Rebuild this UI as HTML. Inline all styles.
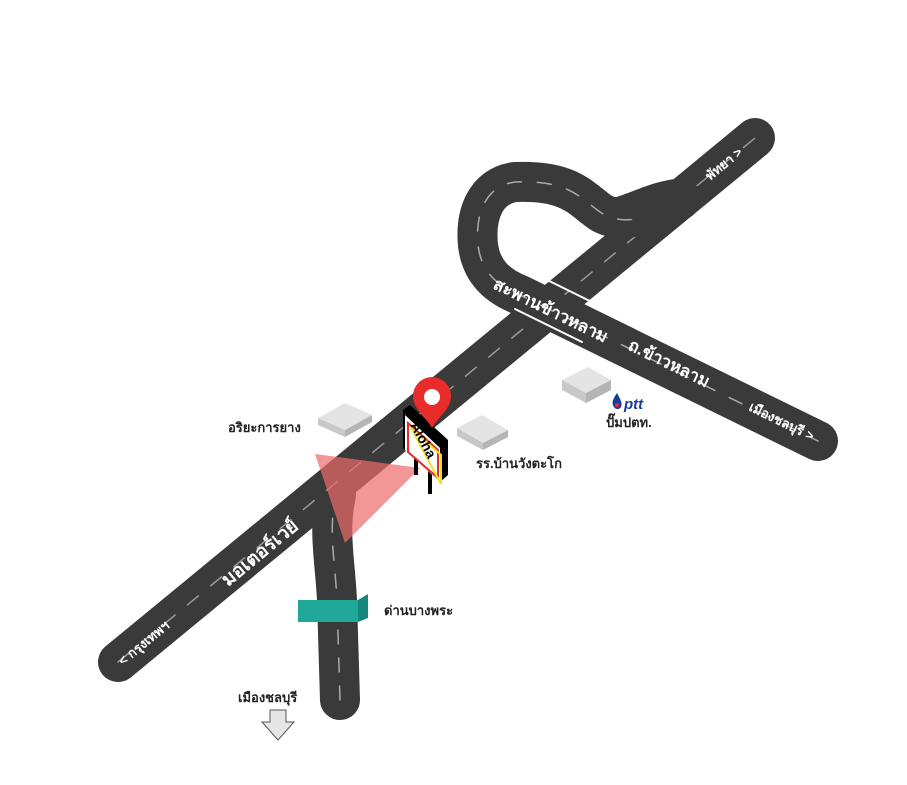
<!DOCTYPE html>
<html><head><meta charset="utf-8"><style>
html,body{margin:0;padding:0;background:#fff}
svg text{font-family:"Liberation Sans","Noto Sans CJK SC",sans-serif}
</style></head><body>
<svg width="907" height="780" viewBox="0 0 907 780" xmlns="http://www.w3.org/2000/svg">
<g fill="none" stroke-linecap="round" stroke-linejoin="round">
 <!-- lower road -->
 <path d="M340,700 L337,600 C335,560 328,530 336,495" stroke="#3a3a3a" stroke-width="40"/>
 <path d="M340,700 L337,600 C335,560 328,530 336,495" stroke="#aaa" stroke-width="1.5" stroke-dasharray="14,14"/>
 <!-- highway -->
 <path d="M118,662 L755,138" stroke="#3a3a3a" stroke-width="40"/>
 <path d="M118,662 L755,138" stroke="#999" stroke-width="1.5" stroke-dasharray="14,16"/>
 <!-- loop road -->
 <path d="M680,200 C650,215 620,225 600,212 C580,198 570,180 515,182 C485,186 475,215 478,245 C481,270 495,285 520,295 L818,441" stroke="#3a3a3a" stroke-width="40"/>
 <path d="M660,210 C640,220 620,225 600,212 C580,198 570,180 515,182 C485,186 475,215 478,245 C481,270 495,285 520,295 L818,441" stroke="#aaa" stroke-width="1.5" stroke-dasharray="14,16"/>
 <!-- bridge edges -->
 <path d="M533,273 L600,306" stroke="#fff" stroke-width="2"/>
 <path d="M515,309 L582,342" stroke="#fff" stroke-width="2"/>
</g>
<path d="M605,200 C630,195 650,180 685,178 L700,200 L640,225 Z" fill="#3a3a3a"/>
<!-- buildings -->
<g>
 <polygon points="318,418 345,403 372,415 345,430" fill="#e4e4e4"/>
 <polygon points="318,418 345,430 345,437 318,425" fill="#c8c8c8"/>
 <polygon points="345,430 372,415 372,422 345,437" fill="#b5b5b5"/>
 <polygon points="457,428 482,415 508,430 483,443" fill="#e4e4e4"/>
 <polygon points="457,428 483,443 483,450 457,436" fill="#c8c8c8"/>
 <polygon points="483,443 508,430 508,437 483,450" fill="#b5b5b5"/>
 <polygon points="562,380 588,367 611,380 586,393" fill="#e4e4e4"/>
 <polygon points="562,380 586,393 586,403 562,390" fill="#c8c8c8"/>
 <polygon points="586,393 611,380 611,390 586,403" fill="#b5b5b5"/>
 <polygon points="298,600 358,600 358,622 298,622" fill="#20a898"/>
 <polygon points="358,600 368,594 368,618 358,622" fill="#16857a"/>
</g>
<!-- red triangle -->
<polygon points="315,454 420,468 345,543" fill="#ee6a6a" opacity="0.7"/>
<!-- sign -->
<g>
 <rect x="414" y="455" width="4" height="20" fill="#000"/>
 <rect x="428" y="462" width="4" height="32" fill="#000"/>
 <polygon points="403,410 410,405 448,440 448,475 440,482 403,448" fill="#000"/>
 <polygon points="405,415 440,448 440,482 405,450" fill="#fff"/>
 <polygon points="408,423 438,450 438,478 408,452" fill="none" stroke="#e82b2b" stroke-width="2"/>
 <polygon points="411,428 441,455 441,484" fill="none" stroke="#f0e030" stroke-width="2"/>
 <text x="0" y="0" font-size="14" font-weight="bold" fill="#000" transform="translate(410,425) rotate(62)">Aloha</text>
</g>
<!-- pin -->
<path d="M432,428 C426,417 413,409 413,396 A19,19 0 0 1 451,396 C451,409 438,417 432,428 Z" fill="#e82b2b"/>
<circle cx="432" cy="397" r="8" fill="#fff"/>
<!-- arrow -->
<polygon points="270,710 286,710 286,722 294,722 278,740 262,722 270,722" fill="#e6e6e6" stroke="#555" stroke-width="1"/>
<!-- labels on roads -->
<g fill="#fff" font-weight="bold">
 <text font-size="13" transform="translate(123,666) rotate(-39.5)">&lt; กรุงเทพฯ</text>
 <text font-size="19" transform="translate(228,587) rotate(-39.5)">มอเตอร์เวย์</text>
 <text font-size="13" transform="translate(710,181) rotate(-39.5)">พัทยา &gt;</text>
 <text font-size="17" transform="translate(492,288) rotate(26)">สะพานข้าวหลาม</text>
 <text font-size="17" transform="translate(627,349) rotate(26)">ถ.ข้าวหลาม</text>
 <text font-size="13" transform="translate(748,410) rotate(26)">เมืองชลบุรี &gt;</text>
</g>
<g fill="#222" font-size="13" font-weight="bold">
 <text x="228" y="432">อริยะการยาง</text>
 <text x="476" y="468">รร.บ้านวังตะโก</text>
 <text x="606" y="427">ปั๊มปตท.</text>
 <text x="384" y="615">ด่านบางพระ</text>
 <text x="238" y="702">เมืองชลบุรี</text>
 <text x="624" y="409" font-style="italic" fill="#1a3c9c" font-size="15">ptt</text>
</g>
<path d="M617,393 C613,399 611,403 614,407 A4,4 0 0 0 621,407 C623,403 620,399 617,393Z" fill="#1a3c9c"/>
<circle cx="617" cy="405" r="2" fill="#e82b2b"/>
</svg>
</body></html>
